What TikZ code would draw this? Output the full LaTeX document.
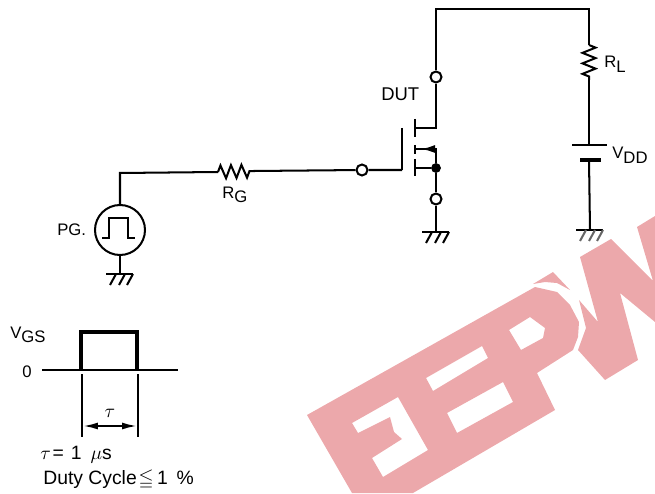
\documentclass[tikz,border=0pt]{standalone}
\usepackage{fontspec}
\setmainfont{Liberation Sans}
\usepackage{amsmath}
\usepackage{amssymb}
\usetikzlibrary{positioning, calc, arrows.meta, decorations.pathmorphing}
\definecolor{stamp}{HTML}{ECA8AB}
\definecolor{fadegray}{HTML}{666666}
\tikzset{%
  wire/.style     = {draw, line width = 1.15pt},
  heavy/.style    = {draw, line width = 1.9pt},
  port/.style     = {draw, circle, line width = 1.15pt, fill = white, inner sep = 0pt,
    minimum size = 0.22cm},
  source/.style   = {draw, circle, line width = 1.15pt, inner sep = 0pt, minimum size = 1cm},
  dot/.style      = {draw, circle, fill = black, inner sep = 0pt, minimum size = 0.18cm},
  lab/.style      = {inner sep = 0pt, font = \fontsize{9.5}{12}\selectfont},
  biglab/.style   = {inner sep = 0pt, font = \fontsize{10.5}{12}\selectfont},
  res/.style      = {line width = 1.15pt, decorate,
    decoration = {zigzag, segment length = 0.21cm, amplitude = 0.13cm}}
}
\newcommand{\low}[1]{\raisebox{-0.28em}{#1}}
\newcommand{\gndmark}[2][black]{%
  \draw[wire] ($(#2)+(-14,0)$) -- ($(#2)+(13,0)$);
  \foreach \dx in {-4,5,13}
    \draw[wire, #1] ($(#2)+(\dx,0)$) -- ++(-6,11);
}
\begin{document}
\begin{tikzpicture}[x = 0.02cm, y = -0.02cm]
\useasboundingbox (0,0) rectangle (655,493);
%watermark
\begin{scope}
\clip (0,0) rectangle (655,493);
\fill[stamp, even odd rule]
	(307,415) -- (535,287) -- (557,292) -- (570,305) -- (579,322) -- (578,337) -- (573,350)
	-- (537,373) -- (555,410) -- (413,493) -- (352,493) -- cycle
	(352,423) -- (398,397) -- (428,450) -- (383,477) -- (372,458) -- (402,439) -- (394,432)
	-- (390,417) -- (358,433) -- cycle
	(426,378) -- (482,346) -- (488,358) -- (433,391) -- cycle
	(447,413) -- (503,382) -- (513,402) -- (457,433) -- cycle
	(509,330) -- (530,317) -- (545,328) -- (543,338) -- (521,350) -- cycle;
\fill[stamp] (533,284) -- (553,272) -- (570,290) -- (557,283) -- (545,282) -- cycle;
\fill[stamp] (580,257) -- (611,239) -- (653,281) -- (637,227) -- (655,216) -- (655,322)
	-- (620,293) -- (638,360) -- (605,380) -- (578,350) -- (586,328) -- (579,300) -- (598,322) -- cycle;
\end{scope}
%circuit blocks
\draw
	(436,77) node [port] (pd) {}
	(436,199) node [port] (ps) {}
	(362,170) node [port] (pg) {}
	(436,168) node [dot] (js) {}
	(120,230) node [source] (gen) {};
%junctions
\coordinate (topl) at (436,9);
\coordinate (topr) at (589,9);
\coordinate (rla) at (589,45);
\coordinate (rlb) at (589,80);
\coordinate (bta) at (589,145);
\coordinate (btb) at (589,160);
\coordinate (gnda) at (436,232);
\coordinate (gndb) at (590,230);
\coordinate (gndc) at (120,274);
\coordinate (rga) at (218,172);
\coordinate (rgb) at (254,171);
\coordinate (corner) at (120,173);
\coordinate (gate) at (402,170);
\coordinate (dr) at (436,128);
\coordinate (drs) at (416,128);
\coordinate (sr) at (436,149);
\coordinate (srs) at (416,149);
\coordinate (sbs) at (416,168);
%circuit lines
\draw[wire] (pd) -- (topl) -- (topr) -- (rla);
\draw[res] (rla) -- (rlb);
\draw[wire] (rlb) -- (bta);
\draw[wire] (btb) -- (gndb);
\draw[wire] ($(bta)+(-17,0)$) -- ($(bta)+(18,0)$);
\draw[heavy] ($(btb)+(-9,0)$) -- ($(btb)+(12,0)$);
\draw[wire] (pd) -- (dr) -- (drs);
\draw[wire] (srs) -- (sr) -- (js);
\draw[wire, -{Latex[length = 0.28cm, width = 0.16cm]}] (434,149) -- (421,149);
\draw[wire] (sbs) -- (js) -- (ps) -- (gnda);
\draw[wire] (gen) -- (corner) -- (rga);
\draw[res] (rga) -- (rgb);
\draw[wire] (rgb) -- (pg) -- (gate);
\draw[wire] (gen) -- (gndc);
%gate and channel bars
\draw[wire] (402,128) -- (gate);
\draw[wire] (415,119) -- (415,137);
\draw[wire] (415,145) -- (415,154);
\draw[wire] (415,159) -- (415,176);
%grounds
\gndmark{gnda}
\gndmark[fadegray]{gndb}
\gndmark{gndc}
%pulse in source
\draw[wire] (102,238) -- (109,238) -- (109,218) -- (128,218) -- (128,238) -- (135,238);
%waveform
\draw[wire, line width = 1.4pt] (42,370) -- (178,370);
\draw[heavy] (81,370) -- (81,332) -- (137,332) -- (137,370);
\draw[wire, line width = 0.9pt] (82,374) -- (82,437);
\draw[wire, line width = 0.9pt] (138,374) -- (138,437);
\draw[wire, {Latex[length = 0.3cm, width = 0.14cm]}-{Latex[length = 0.3cm, width = 0.14cm]}] (83,426) -- (137,426);
%labels
\node[biglab, anchor = west] (dut) at (381,94) {DUT};
\node[lab, anchor = west] (rl) at (604,64) {R\low{L}};
\node[lab, anchor = west] (vdd) at (612,155) {V\low{DD}};
\node[lab, anchor = west] (rg) at (222,195) {R\low{G}};
\node[lab, anchor = west] (pgl) at (57,230) {PG.};
\node[lab, anchor = west] (vgs) at (10,335) {V\low{GS}};
\node[lab, anchor = west] (zero) at (22,372) {0};
\node[biglab] (tau) at (110,413) {$\tau$};
\node[biglab, anchor = west, font = \fontsize{11}{12}\selectfont] (taueq) at (40,455) {$\tau$\hspace{1pt}=\hspace{4pt}1\hspace{5pt}$\mu$s};
\node[biglab, anchor = west, font = \fontsize{11}{12}\selectfont] (duty) at (43,480) {Duty Cycle\hspace{1pt}$\leqq$\hspace{2pt}1\hspace{5pt}\%};
\end{tikzpicture}
\end{document}
